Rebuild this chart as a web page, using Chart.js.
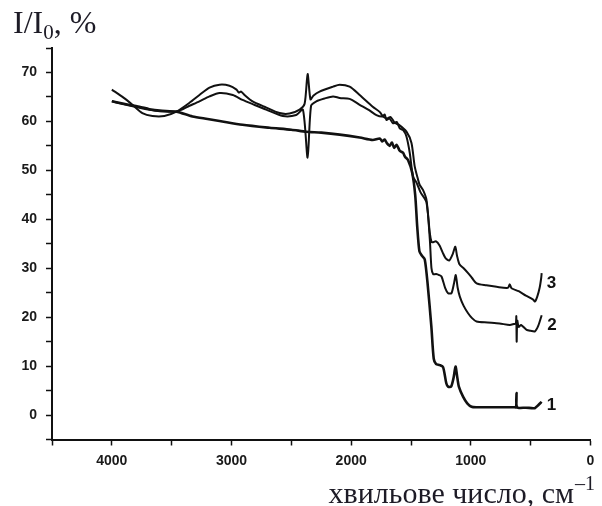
<!DOCTYPE html>
<html>
<head>
<meta charset="utf-8">
<script src="https://cdn.jsdelivr.net/npm/chart.js@4.4.1/dist/chart.umd.min.js"></script>
<style>
  html, body { margin: 0; padding: 0; background: #fff; }
  canvas { display: block; }
</style>
</head>
<body>
<canvas id="spectrum" width="602" height="506"></canvas>
<script>
// ── Data ──────────────────────────────────────────────────

const xTickLabels = [4000, 3000, 2000, 1000, 0];
const yTickLabels = [0, 10, 20, 30, 40, 50, 60, 70];
const curveNames = ['1', '2', '3'];

// curve 1
const wave1 = [4000, 3900, 3770, 3686, 3600, 3460, 3326, 3200, 3100, 2908, 2682, 2500, 2375, 2250, 2096, 1929,
    1820, 1760, 1740, 1720, 1700, 1678, 1660, 1640, 1620, 1594, 1567, 1550, 1525, 1490, 1465, 1448, 1430, 1410,
    1385, 1360, 1330, 1310, 1290, 1260, 1232, 1205, 1190, 1165, 1145, 1128, 1115, 1100, 1064, 1030, 994, 952,
    800, 640, 622, 618, 614, 540, 480, 464, 437, 408];
const pct1 = [64.1, 63.6, 63.0, 62.5, 62.2, 62.0, 61.0, 60.5, 60.1, 59.3, 58.7, 58.3, 57.9, 57.7, 57.3, 56.7,
    56.2, 56.5, 55.9, 56.3, 55.5, 55.0, 55.7, 54.6, 55.2, 54.0, 53.6, 52.8, 52.1, 49.5, 45.0, 38.5, 33.5, 32.6,
    31.8, 26.5, 18.1, 11.5, 10.4, 10.2, 9.8, 6.5, 5.8, 5.8, 7.5, 9.9, 8.0, 5.8, 3.7, 2.4, 1.7, 1.6,
    1.6, 1.6, 1.6, 4.5, 1.6, 1.5, 1.4, 1.4, 2.0, 2.7];

// curve 2
const wave2 = [4000, 3900, 3770, 3686, 3600, 3460, 3351, 3268, 3184, 3100, 2989, 2908, 2810, 2710, 2571, 2459,
    2403, 2364, 2335, 2291, 2220, 2152, 2096, 2013, 1929, 1850, 1789, 1740, 1720, 1705, 1680, 1650, 1620, 1594,
    1565, 1538, 1510, 1483, 1454, 1420, 1371, 1343, 1329, 1315, 1290, 1265, 1245, 1215, 1190, 1162, 1140, 1126,
    1110, 1092, 1060, 1023, 990, 952, 860, 760, 674, 640, 624, 620, 617, 612, 600, 580, 534, 500, 464, 437, 408];
const pct2 = [64.1, 63.5, 62.8, 62.4, 62.1, 62.0, 63.2, 64.1, 65.1, 65.8, 65.4, 64.4, 63.4, 62.4, 61.1, 61.3,
    62.4, 52.6, 63.2, 64.1, 64.7, 65.1, 64.8, 64.6, 63.4, 62.3, 61.3, 61.0, 61.4, 60.3, 60.6, 59.6, 59.9, 58.6,
    58.2, 56.9, 53.5, 48.7, 47.5, 45.5, 43.5, 36.0, 30.0, 28.8, 28.8, 28.6, 28.3, 26.0, 24.9, 24.9, 27.0, 28.6,
    26.0, 24.2, 22.3, 20.8, 19.8, 19.1, 18.9, 18.7, 18.4, 18.6, 18.7, 20.2, 15.0, 19.3, 18.0, 18.4, 17.4, 17.2, 17.1, 18.2, 20.4];

// curve 3
const wave3 = [4000, 3900, 3828, 3745, 3661, 3561, 3460, 3351, 3268, 3184, 3100, 3017, 2958, 2940, 2920, 2891,
    2824, 2724, 2598, 2515, 2431, 2389, 2364, 2340, 2314, 2264, 2152, 2096, 2013, 1929, 1820, 1760, 1734, 1700,
    1670, 1636, 1600, 1538, 1496, 1469, 1441, 1427, 1400, 1371, 1343, 1329, 1320, 1290, 1260, 1235, 1210, 1180,
    1150, 1130, 1115, 1095, 1060, 1023, 990, 952, 870, 785, 690, 675, 660, 600, 540, 479, 464, 445, 425, 412, 408];
const pct3 = [66.5, 64.8, 63.4, 61.7, 61.1, 61.1, 62.0, 63.8, 65.4, 66.9, 67.5, 67.3, 66.5, 65.9, 66.1, 65.4,
    64.1, 63.0, 61.7, 61.6, 62.4, 63.6, 69.7, 64.5, 65.3, 66.1, 67.1, 67.5, 67.1, 65.4, 63.0, 61.9, 61.0, 60.6,
    60.9, 59.7, 59.3, 57.9, 55.6, 50.8, 48.1, 47.0, 46.0, 44.0, 37.2, 35.4, 35.3, 35.5, 34.6, 33.2, 32.0, 31.6,
    33.0, 34.4, 32.5, 30.8, 30.0, 29.0, 28.0, 26.9, 26.5, 26.2, 26.0, 26.7, 25.9, 25.3, 24.4, 23.6, 23.2, 24.2, 26.0, 28.0, 29.0];

// where the curve numbers sit (data units)
const labelWave = [366, 361, 366];
const labelPct = [1.9, 18.4, 27.0];

// ── Helpers ──────────────────────────────────────────────

const ink = '#111111';
const serif = '"Liberation Serif", "Times New Roman", serif';
const sans = '"Liberation Sans", Arial, sans-serif';

function toPoints(xs, ys) {
    return xs.map((w, i) => ({ x: w, y: ys[i] }));
}

function curve(xs, ys, width) {
    return {
        data: toPoints(xs, ys),
        borderColor: ink,
        borderWidth: width,
        pointRadius: 0,
        tension: 0.25,
        fill: false
    };
}

// axis titles + curve numbers
const textPlugin = {
    id: 'spectrumText',
    afterDraw(chart) {
        const { ctx, scales: { x, y } } = chart;
        ctx.save();
        ctx.fillStyle = '#1d1b26';
        ctx.textBaseline = 'alphabetic';
        ctx.textAlign = 'left';

        // I/I0, %
        let px = 13;
        ctx.font = '32px ' + serif;
        ctx.fillText('I/I', px, 33);
        px += ctx.measureText('I/I').width;
        ctx.font = '21px ' + serif;
        ctx.fillText('0', px, 39);
        px += ctx.measureText('0').width;
        ctx.font = '32px ' + serif;
        ctx.fillText(', %', px, 33);

        // хвильове число, см-1
        ctx.font = '30px ' + serif;
        ctx.textAlign = 'right';
        ctx.fillText('хвильове число, см', 574, 503);
        ctx.textAlign = 'left';
        ctx.font = '20px ' + serif;
        ctx.fillText('–1', 575, 490);

        ctx.fillStyle = ink;
        ctx.font = 'bold 17px ' + sans;
        ctx.textBaseline = 'middle';
        curveNames.forEach((n, i) => {
            ctx.fillText(n, x.getPixelForValue(labelWave[i]), y.getPixelForValue(labelPct[i]));
        });
        ctx.restore();
    }
};

// ── Chart.js Setup ────────────────────────────────────────

new Chart(document.getElementById('spectrum').getContext('2d'), {
    type: 'line',
    data: {
        datasets: [
            curve(wave1, pct1, 2.6),
            curve(wave2, pct2, 2),
            curve(wave3, pct3, 2)
        ]
    },
    options: {
        responsive: false,
        animation: false,
        devicePixelRatio: 1,
        layout: { padding: { top: 48, right: 11.5, left: 0, bottom: 0 } },
        plugins: {
            legend: { display: false },
            tooltip: { enabled: false }
        },
        scales: {
            x: {
                type: 'linear',
                reverse: true,
                min: 0,
                max: 4500,
                afterFit: (s) => { s.height = 66.5; },
                border: { display: true, color: ink, width: 2 },
                grid: { drawOnChartArea: false, drawTicks: true, tickLength: 6, tickColor: ink, tickWidth: 1.5 },
                ticks: {
                    stepSize: 500,
                    autoSkip: false,
                    maxRotation: 0,
                    padding: 7,
                    color: '#1a1a1a',
                    font: { family: sans, size: 14, weight: 'bold' },
                    callback: (v) => xTickLabels.includes(v) ? String(v) : ''
                }
            },
            y: {
                min: -5,
                max: 75,
                afterFit: (s) => { s.width = 52; },
                border: { display: true, color: ink, width: 2 },
                grid: { drawOnChartArea: false, drawTicks: true, tickLength: 6, tickColor: ink, tickWidth: 1.5 },
                ticks: {
                    stepSize: 5,
                    autoSkip: false,
                    padding: 9,
                    color: '#1a1a1a',
                    font: { family: sans, size: 14, weight: 'bold' },
                    callback: (v) => yTickLabels.includes(v) ? String(v) : ''
                }
            }
        }
    },
    plugins: [textPlugin]
});
</script>
</body>
</html>
